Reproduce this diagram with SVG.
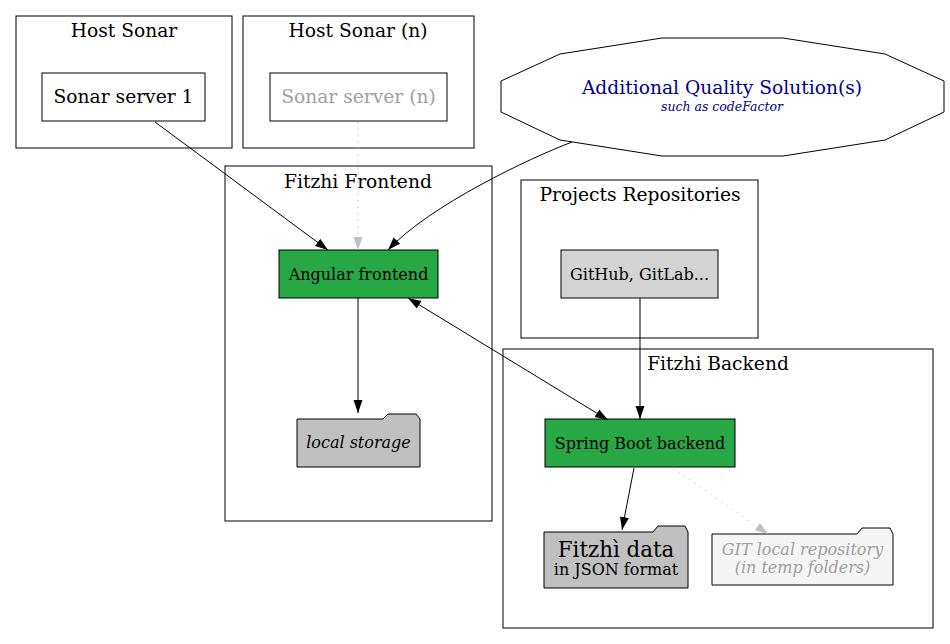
<svg xmlns="http://www.w3.org/2000/svg" width="950" height="644" viewBox="0 0 950 644">
<defs>
<style>
text{font-family:"DejaVu Serif","Liberation Serif",serif;text-anchor:middle;}
.cl{fill:none;stroke:#000;stroke-width:1;}
.clt{font-size:18.67px;fill:#000;}
.box{stroke:#000;stroke-width:1;}
.green{fill:#28a745;}
.nt{font-size:16px;fill:#000;}
.e{fill:none;stroke:#000;stroke-width:1;}
.eg{fill:none;stroke:#c0c0c0;stroke-width:1;stroke-dasharray:1.5,5;}
</style>
<marker id="ah" markerWidth="14" markerHeight="10" refX="13" refY="5" orient="auto" markerUnits="userSpaceOnUse"><path d="M0,0.5 L13,5 L0,9.5 Z" fill="#000"/></marker>
<marker id="ahs" markerWidth="14" markerHeight="10" refX="0" refY="5" orient="auto" markerUnits="userSpaceOnUse"><path d="M13,0.5 L0,5 L13,9.5 Z" fill="#000"/></marker>
<marker id="ahg" markerWidth="14" markerHeight="10" refX="13" refY="5" orient="auto" markerUnits="userSpaceOnUse"><path d="M0,0.5 L13,5 L0,9.5 Z" fill="#c0c0c0"/></marker>
</defs>
<rect width="950" height="644" fill="#fff"/>
<g id="cluster-host-sonar">
<rect class="cl" x="16" y="16" width="216" height="132"/>
<text class="clt" x="124" y="37">Host Sonar</text>
</g>
<g id="cluster-host-sonar-n">
<rect class="cl" x="243" y="16" width="231" height="132"/>
<text class="clt" x="358" y="37">Host Sonar (n)</text>
</g>
<g id="cluster-frontend">
<rect class="cl" x="225" y="166" width="267" height="355"/>
<text class="clt" x="358" y="188">Fitzhi Frontend</text>
</g>
<g id="cluster-repos">
<rect class="cl" x="521" y="180" width="237" height="158"/>
<text class="clt" x="640" y="201">Projects Repositories</text>
</g>
<g id="cluster-backend">
<rect class="cl" x="503" y="349" width="430" height="279"/>
<text class="clt" x="718" y="370">Fitzhi Backend</text>
</g>
<g id="sonar1">
<rect class="box" fill="#fff" x="42" y="73" width="163" height="48"/>
<text class="clt" x="123.5" y="103">Sonar server 1</text>
</g>
<g id="sonarn">
<rect class="box" fill="#fff" x="270" y="73" width="177" height="48"/>
<text class="clt" x="358.5" y="103" style="fill:#a0a0a0">Sonar server (n)</text>
</g>
<g id="quality">
<polygon class="box" fill="#fff" points="662,38 783,38 885,54 944,81 944,112 885,140 783,156 662,156 560,140 501,112 501,81 560,54"/>
<text x="722" y="94" style="font-size:18.67px;fill:#00008b">Additional Quality Solution(s)</text>
<text x="722" y="111" style="font-size:12.5px;font-style:italic;fill:#00008b">such as codeFactor</text>
</g>
<g id="angular">
<rect class="box green" x="279" y="250" width="159" height="48"/>
<text class="nt" x="358.5" y="280">Angular frontend</text>
</g>
<g id="localstorage">
<path class="box" fill="#c0c0c0" d="M297,419 L383,419 L388,414 L416,414 L420,419 L420,467 L297,467 Z"/>
<text class="nt" x="358.5" y="448" style="font-style:italic">local storage</text>
</g>
<g id="github">
<rect class="box" fill="#d3d3d3" x="561" y="250" width="157" height="48"/>
<text class="nt" x="639.5" y="280">GitHub, GitLab...</text>
</g>
<g id="spring">
<rect class="box green" x="545" y="419" width="190" height="48"/>
<text class="nt" x="640" y="449">Spring Boot backend</text>
</g>
<g id="fitzhidata">
<path class="box" fill="#c0c0c0" d="M544,532 L653,532 L658,526 L685,526 L688,532 L688,588 L544,588 Z"/>
<text x="616" y="557" style="font-size:21.33px">Fitzhì data</text>
<text x="616" y="575" style="font-size:16px">in JSON format</text>
</g>
<g id="gitlocal">
<path class="box" fill="#f5f5f5" d="M712,534 L857,534 L862,528 L890,528 L893,534 L893,585 L712,585 Z"/>
<text x="802.5" y="555" style="font-size:16px;font-style:italic;fill:#a0a0a0">GIT local repository</text>
<text x="802.5" y="573" style="font-size:16px;font-style:italic;fill:#a0a0a0">(in temp folders)</text>
</g>
<g id="connectors">
<path class="e" d="M155,122 L328,250" marker-end="url(#ah)"/>
<path class="eg" d="M358,122 L358,250" marker-end="url(#ahg)"/>
<path class="e" d="M572,142 C530,158 430,205 388,250" marker-end="url(#ah)"/>
<path class="e" d="M358,298 L358,413" marker-end="url(#ah)"/>
<path class="e" d="M408,298 L608,420" marker-start="url(#ahs)" marker-end="url(#ah)"/>
<path class="e" d="M640,298 L640,419" marker-end="url(#ah)"/>
<path class="e" d="M634,468 L622,530" marker-end="url(#ah)"/>
<path class="eg" d="M673,468 L768,534" marker-end="url(#ahg)"/>
</g>
</svg>
